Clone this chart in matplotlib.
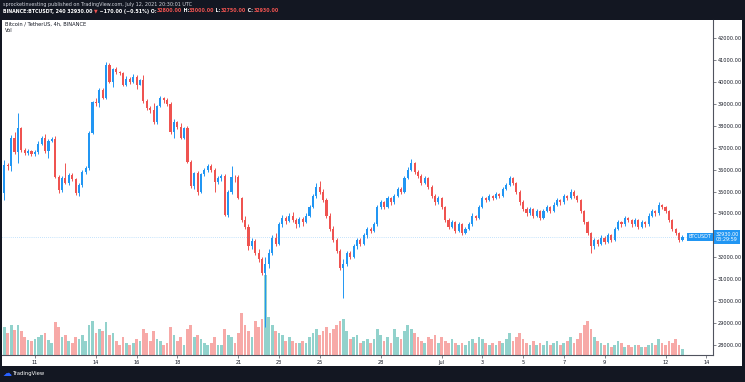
import matplotlib
matplotlib.use("Agg")
import matplotlib.pyplot as plt
from matplotlib.patches import Rectangle
from matplotlib.transforms import blended_transform_factory

# BTCUSDT 4h candles, 2021-06-09 08:00 .. 2021-07-12 20:00
opens = [
    34300, 34950, 36200, 36150, 37440, 36800, 37900, 36900, 36760, 36850,
    36730, 36780, 37170, 37440, 36850, 37300, 37400, 35660, 35070, 35600,
    35390, 35750, 35570, 34930, 35300, 35890, 36070, 37670, 39080, 39030,
    39630, 39260, 40770, 40000, 40590, 40450, 40400, 39860, 40130, 40000,
    40220, 39860, 40100, 39130, 38810, 38720, 38170, 38900, 39260, 39170,
    39000, 37700, 38170, 37940, 37440, 37900, 36350, 35250, 35850, 35000,
    35800, 35980, 36160, 35980, 35450, 35600, 35700, 33950, 34980, 35660,
    35650, 34700, 33700, 33400, 32500, 32750, 32200, 31900, 31300, 31700,
    32200, 32900, 32600, 33500, 33800, 33650, 33900, 33700, 33500, 33750,
    33600, 33900, 34300, 34800, 35200, 35000, 34600, 33900, 33300, 32800,
    32300, 31500, 31700, 32200, 32000, 32500, 32800, 32600, 33000, 33300,
    33200, 33500, 34300, 34500, 34300, 34700, 34500, 34800, 35100, 35000,
    35600, 36000, 36300, 35900, 35700, 35400, 35600, 35200, 34800, 34500,
    34700, 34300, 33700, 33400, 33600, 33200, 33500, 33100, 33300, 33500,
    33900, 33800, 34300, 34700, 34600, 34800, 34700, 34900, 34800, 35100,
    35300, 35600, 35400, 35000, 34500, 34200, 34000, 34200, 33900, 34100,
    33800, 34100, 34300, 34100, 34400, 34600, 34500, 34800, 34700, 35000,
    34800, 34600, 34100, 33600, 33100, 32500, 32800, 32600, 32900, 32700,
    33000, 32800, 33300, 33600, 33500, 33800, 33700, 33500, 33700, 33400,
    33600, 33500, 33900, 34100, 34000, 34400, 34300, 34100, 33700, 33300,
    33100, 32800,
]
highs = [
    35050, 36440, 36300, 37580, 37710, 38560, 37950, 37000, 36950, 36900,
    36900, 37300, 37550, 37600, 37400, 37500, 37550, 35750, 35700, 36300,
    35850, 35850, 35620, 35400, 36000, 36150, 37750, 39150, 39250, 39700,
    39700, 40900, 40850, 40650, 40700, 40500, 40450, 40250, 40200, 40350,
    40300, 40150, 40300, 39200, 38900, 39050, 38950, 39350, 39300, 39250,
    39080, 38300, 38200, 38120, 37950, 37990, 36450, 35900, 35950, 35850,
    36050, 36250, 36250, 36050, 35700, 35800, 35800, 35050, 36160, 35750,
    35750, 34750, 33900, 33500, 32900, 32850, 32400, 32000, 32000, 32400,
    33000, 33100, 33600, 33950, 33900, 34000, 34050, 33800, 33850, 33850,
    34000, 34400, 34900, 35400, 35500, 35100, 34700, 34000, 33450, 32900,
    32400, 31900, 32300, 32300, 32600, 32900, 32900, 33100, 33400, 33400,
    33600, 34400, 34600, 34550, 34800, 34750, 34900, 35200, 35200, 35700,
    36100, 36500, 36350, 36000, 35800, 35700, 35650, 35300, 34900, 34800,
    34750, 34350, 33800, 33700, 33650, 33600, 33550, 33400, 33600, 34000,
    33950, 34400, 34800, 34750, 34900, 34850, 35000, 34950, 35200, 35400,
    35700, 35650, 35450, 35050, 34600, 34300, 34300, 34250, 34200, 34150,
    34200, 34400, 34350, 34500, 34700, 34650, 34900, 34850, 35100, 35050,
    34850, 34650, 34150, 33650, 33150, 32900, 32850, 33000, 32950, 33100,
    33050, 33400, 33700, 33650, 33900, 33850, 33750, 33800, 33750, 33700,
    33650, 34000, 34200, 34150, 34500, 34450, 34350, 34150, 33750, 33350,
    33150, 33000,
]
lows = [
    34150, 34600, 36000, 35950, 36700, 36300, 36800, 36650, 36650, 36600,
    36600, 36700, 37100, 36750, 36530, 37250, 35600, 34950, 35000, 35350,
    35300, 35500, 34850, 34800, 35200, 35800, 36000, 37600, 38900, 38850,
    39200, 39200, 39950, 39750, 40350, 40300, 39800, 39800, 39900, 39950,
    39670, 39850, 39050, 38700, 38600, 38100, 38100, 38850, 39050, 38900,
    37600, 37440, 37850, 37400, 37400, 36300, 35150, 35100, 34850, 34950,
    35700, 35900, 35900, 35000, 35350, 35500, 33900, 33850, 34900, 35450,
    34650, 33600, 33300, 32350, 32400, 32100, 31800, 31200, 28810, 31500,
    32100, 32500, 32550, 33400, 33500, 33600, 33600, 33350, 33400, 33450,
    33550, 33850, 34250, 34700, 34900, 34500, 33800, 33200, 32700, 32200,
    31400, 30150, 31600, 31900, 31950, 32400, 32500, 32550, 32900, 33100,
    33150, 33450, 34200, 34200, 34250, 34400, 34450, 34750, 34900, 34950,
    35550, 35950, 35800, 35600, 35300, 35350, 35100, 34700, 34400, 34450,
    34200, 33600, 33300, 33350, 33100, 33150, 33000, 33050, 33250, 33450,
    33700, 33750, 34250, 34500, 34550, 34600, 34650, 34700, 34750, 35050,
    35250, 35300, 34900, 34400, 34100, 33900, 33950, 33800, 33850, 33700,
    33750, 34050, 34000, 34050, 34350, 34400, 34450, 34600, 34650, 34700,
    34500, 34000, 33500, 33000, 32200, 32400, 32500, 32550, 32600, 32650,
    32700, 32750, 33250, 33400, 33450, 33600, 33400, 33450, 33300, 33350,
    33400, 33450, 33850, 33900, 33950, 34200, 34000, 33600, 33200, 33000,
    32700, 32750,
]
closes = [
    34950, 36200, 36150, 37440, 36800, 37900, 36900, 36760, 36850, 36730,
    36780, 37170, 37440, 36850, 37300, 37400, 35660, 35070, 35600, 35390,
    35750, 35570, 34930, 35300, 35890, 36070, 37670, 39080, 39030, 39630,
    39260, 40770, 40000, 40590, 40450, 40400, 39860, 40130, 40000, 40220,
    39860, 40100, 39130, 38810, 38720, 38170, 38900, 39260, 39170, 39000,
    37700, 38170, 37940, 37440, 37900, 36350, 35250, 35850, 35000, 35800,
    35980, 36160, 35980, 35450, 35600, 35700, 33950, 34980, 35660, 35650,
    34700, 33700, 33400, 32500, 32750, 32200, 31900, 31300, 31700, 32200,
    32900, 32600, 33500, 33800, 33650, 33900, 33700, 33500, 33750, 33600,
    33900, 34300, 34800, 35200, 35000, 34600, 33900, 33300, 32800, 32300,
    31500, 31700, 32200, 32000, 32500, 32800, 32600, 33000, 33300, 33200,
    33500, 34300, 34500, 34300, 34700, 34500, 34800, 35100, 35000, 35600,
    36000, 36300, 35900, 35700, 35400, 35600, 35200, 34800, 34500, 34700,
    34300, 33700, 33400, 33600, 33200, 33500, 33100, 33300, 33500, 33900,
    33800, 34300, 34700, 34600, 34800, 34700, 34900, 34800, 35100, 35300,
    35600, 35400, 35000, 34500, 34200, 34000, 34200, 33900, 34100, 33800,
    34100, 34300, 34100, 34400, 34600, 34500, 34800, 34700, 35000, 34800,
    34600, 34100, 33600, 33100, 32500, 32800, 32600, 32900, 32700, 33000,
    32800, 33300, 33600, 33500, 33800, 33700, 33500, 33700, 33400, 33600,
    33500, 33900, 34100, 34000, 34400, 34300, 34100, 33700, 33300, 33100,
    32800, 32930,
]
# volume, thousand BTC
volumes = [
    35, 28, 22, 30, 25, 30, 24, 18, 15, 14,
    16, 18, 20, 22, 15, 12, 33, 28, 18, 20,
    14, 12, 18, 16, 20, 14, 30, 34, 22, 26,
    24, 33, 20, 22, 14, 10, 18, 12, 10, 12,
    16, 14, 26, 22, 14, 24, 16, 14, 10, 12,
    28, 20, 14, 18, 10, 26, 30, 18, 20, 16,
    12, 10, 12, 18, 10, 10, 26, 20, 18, 12,
    22, 42, 30, 24, 18, 34, 28, 36, 80, 38,
    30, 24, 22, 20, 14, 18, 14, 12, 12, 14,
    12, 18, 22, 26, 20, 24, 28, 22, 26, 30,
    34, 36, 24, 16, 18, 20, 12, 14, 16, 12,
    16, 26, 20, 14, 18, 12, 26, 18, 16, 24,
    30, 26, 22, 18, 14, 12, 18, 16, 20, 12,
    18, 14, 12, 16, 12, 10, 12, 10, 14, 16,
    12, 18, 16, 12, 10, 12, 10, 14, 12, 16,
    22, 14, 18, 22, 16, 12, 10, 14, 10, 12,
    10, 14, 10, 12, 14, 10, 12, 14, 18, 12,
    16, 22, 30, 34, 26, 18, 14, 12, 10, 12,
    8, 10, 14, 12, 8, 10, 8, 10, 10, 8,
    8, 10, 12, 10, 16, 12, 10, 14, 12, 16,
    10, 6,
]
price_ticks = [28000, 29000, 30000, 31000, 32000, 33000, 34000, 35000,
               36000, 37000, 38000, 39000, 40000, 41000, 42000]
day_ticks = [10, 28, 40, 52, 70, 82, 94, 112, 130, 142, 154, 166, 178, 196, 208]
day_labels = ["11", "14", "16", "18", "21", "23", "25", "28", "Jul",
              "3", "5", "7", "9", "12", "14"]

UP = "#2196f3"
DOWN = "#ef5350"
VOL_UP = "#92d2cc"
VOL_DOWN = "#f7a9a7"
BG = "#131722"
TXT = "#131722"

W, H = 745, 382
fig = plt.figure(figsize=(W / 100, H / 100), dpi=100, facecolor=BG)
fig.add_artist(Rectangle((2 / W, 16 / H), 740 / W, 346 / H, transform=fig.transFigure,
                         facecolor="white", edgecolor="none", zorder=0))

rect = [2 / W, 27 / H, 711 / W, 335 / H]
vax = fig.add_axes(rect, zorder=1)
ax = fig.add_axes(rect, zorder=2)
for a in (vax, ax):
    a.set_facecolor("none")
    a.set_xlim(0.3, 210.0)

x = list(range(len(closes)))
up = [c >= o for o, c in zip(opens, closes)]

# volume overlay
vax.bar(x, volumes, width=0.8, color=[VOL_UP if u else VOL_DOWN for u in up], linewidth=0)
vax.set_ylim(0, 335)
vax.axis("off")

# candles
cols = [UP if u else DOWN for u in up]
ax.vlines(x, lows, highs, colors=cols, linewidth=0.7)
ax.bar(x, [max(abs(c - o), 25) for o, c in zip(opens, closes)],
       bottom=[min(o, c) for o, c in zip(opens, closes)],
       width=0.62, color=cols, linewidth=0)

last = closes[-1]

ax.set_ylim(27545, 42821)
ax.yaxis.tick_right()
ax.set_yticks(price_ticks)
# the tick under the last-price tag is hidden by it, as in the screenshot
ax.set_yticklabels(["" if abs(p - last) < 400 else f"{p:.2f}" for p in price_ticks])
ax.set_xticks(day_ticks)
ax.set_xticklabels(day_labels)
ax.tick_params(axis="both", labelsize=3.6, colors="#50535e", labelcolor=TXT,
               length=2, width=0.5, pad=1.5)
for s in ("top", "left"):
    ax.spines[s].set_visible(False)
for s in ("right", "bottom"):
    ax.spines[s].set_color("#50535e")
    ax.spines[s].set_linewidth(0.8)

# last price tags
tr = blended_transform_factory(ax.transAxes, ax.transData)
ax.text(1.003, last, f"{last:.2f}\n03:29:59", transform=tr, ha="left", va="center",
        fontsize=3.5, color="white", linespacing=1.1,
        bbox=dict(boxstyle="square,pad=0.3", facecolor=UP, edgecolor="none"))
ax.text(0.9975, last, "BTCUSDT", transform=tr, ha="right", va="center",
        fontsize=3.5, color="white",
        bbox=dict(boxstyle="square,pad=0.3", facecolor=UP, edgecolor="none"))
ax.axhline(last, color=UP, linewidth=0.5, linestyle=(0, (1, 2)), alpha=0.5)

# legend texts inside the pane
fig.text(5 / W, 1 - 24 / H, "Bitcoin / TetherUS, 4h, BINANCE", fontsize=3.7,
         color=TXT, va="center")
fig.text(5 / W, 1 - 30.5 / H, "Vol", fontsize=3.7, color=TXT, va="center")

# header
ov = fig.add_axes([0, 0, 1, 1], zorder=3)
ov.axis("off")
ov.set_xlim(0, 1)
ov.set_ylim(0, 1)
fig.text(3 / W, 1 - 4.5 / H,
         "sprocketinvesting published on TradingView.com, July 12, 2021 20:30:01 UTC",
         fontsize=3.5, color="#d1d4dc", va="center")

parts = [
    (f"BINANCE:BTCUSDT, 240 {last:.2f} ", "white"),
    ("\u25bc", DOWN),
    (" \u2212170.00 (\u22120.51%) O:", "white"),
    (f"{opens[-1]:.2f}", DOWN),
    (" H:", "white"),
    (f"{highs[-1]:.2f}", DOWN),
    (" L:", "white"),
    (f"{lows[-1]:.2f}", DOWN),
    (" C:", "white"),
    (f"{closes[-1]:.2f}", DOWN),
]
prev = ov.text(3 / W, 1 - 11 / H, parts[0][0], fontsize=3.4, color=parts[0][1],
               va="center", fontweight="bold")
for s, c in parts[1:]:
    prev = ov.annotate(s, xy=(1, 0.5), xycoords=prev, va="center", ha="left",
                       fontsize=3.4, color=c, fontweight="bold")

# footer logo
fig.text(3 / W, 1 - 373.5 / H, "\u2601", fontsize=6.5, color="#2962ff", va="center")
fig.text(12.5 / W, 1 - 373.5 / H, "TradingView", fontsize=3.8, color="white", va="center")

fig.savefig("out.png", dpi=100, facecolor=BG)
